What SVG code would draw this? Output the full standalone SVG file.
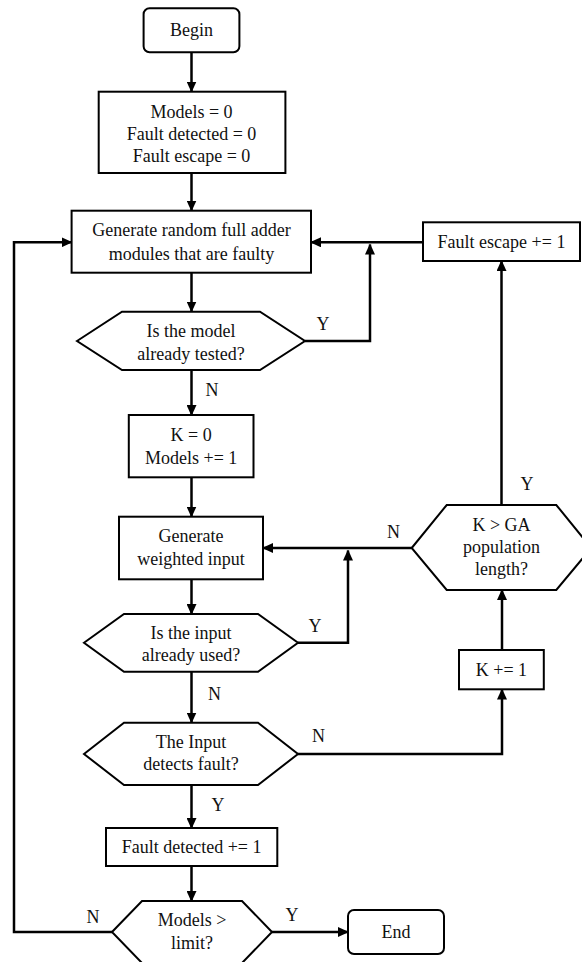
<svg xmlns="http://www.w3.org/2000/svg" width="582" height="962" viewBox="0 0 582 962">
  <style>
    .shape { fill: #ffffff; stroke: #000000; stroke-width: 2; }
    .wire { fill: none; stroke: #000000; stroke-width: 2.5; }
    text { font-family: "Liberation Serif", "Times New Roman", serif; font-size: 18px; fill: #111111; text-anchor: middle; }
  </style>
  <defs>
    <marker id="arrow" markerUnits="userSpaceOnUse" markerWidth="11" markerHeight="10" refX="10" refY="5" orient="auto">
      <path d="M0,0 L11,5 L0,10 Z" fill="#000000"/>
    </marker>
  </defs>

  <rect width="582" height="962" fill="#ffffff"/>

  <!-- connectors -->
  <g id="connectors" class="wire" marker-end="url(#arrow)">
    <path d="M191.5,52.5 V91.5"/>
    <path d="M191.5,173 V210.5"/>
    <path d="M191.5,272.5 V311.5"/>
    <path d="M305,341 H370 V244.5"/>
    <path d="M423,242.3 H311"/>
    <path d="M191.5,370 V415"/>
    <path d="M191.5,477.5 V516.5"/>
    <path d="M191.5,579.5 V614"/>
    <path d="M298,642.7 H348 V550.5"/>
    <path d="M411.7,548 H263"/>
    <path d="M191.5,671.7 V722.5"/>
    <path d="M298,754 H502 V689.5"/>
    <path d="M502,650 V590"/>
    <path d="M501.5,505 V261"/>
    <path d="M191.5,785 V828"/>
    <path d="M191.5,866 V901"/>
    <path d="M272,932 H348"/>
    <path d="M112,932 H14 V242.3 H71.5"/>
  </g>

  <!-- branch labels -->
  <g id="labels">
    <text x="323" y="330">Y</text>
    <text x="212" y="396">N</text>
    <text x="393.5" y="538">N</text>
    <text x="527" y="489.5">Y</text>
    <text x="315" y="632">Y</text>
    <text x="214.5" y="699.5">N</text>
    <text x="318.5" y="742">N</text>
    <text x="218" y="811">Y</text>
    <text x="93" y="923">N</text>
    <text x="292" y="921">Y</text>
  </g>

  <g id="begin">
    <rect class="shape" x="143.6" y="8.3" width="95.8" height="44" rx="6"/>
    <text x="191.5" y="36">Begin</text>
  </g>

  <g id="init">
    <rect class="shape" x="98.7" y="91.7" width="186.7" height="81.3"/>
    <text x="191.5" y="118">Models = 0</text>
    <text x="191.5" y="140">Fault detected = 0</text>
    <text x="191.5" y="161.5">Fault escape = 0</text>
  </g>

  <g id="generate-modules">
    <rect class="shape" x="71.6" y="210.7" width="239.4" height="62"/>
    <text x="191.5" y="235.5">Generate random full adder</text>
    <text x="191.5" y="259.5">modules that are faulty</text>
  </g>

  <g id="fault-escape">
    <rect class="shape" x="423" y="222.3" width="157" height="38.7"/>
    <text x="501.5" y="248">Fault escape += 1</text>
  </g>

  <g id="model-tested">
    <polygon class="shape" points="77,341 122,311.7 260,311.7 305,341 260,370 122,370"/>
    <text x="191" y="337">Is the model</text>
    <text x="191" y="359.5">already tested?</text>
  </g>

  <g id="init-k">
    <rect class="shape" x="128.8" y="415" width="124.7" height="62.3"/>
    <text x="191.2" y="440.5">K = 0</text>
    <text x="191.2" y="463.5">Models += 1</text>
  </g>

  <g id="generate-input">
    <rect class="shape" x="119" y="516.7" width="144" height="62.6"/>
    <text x="191" y="542">Generate</text>
    <text x="191" y="564.5">weighted input</text>
  </g>

  <g id="k-check">
    <polygon class="shape" points="411.7,548 446.7,505 556.3,505 591.3,548 556.3,590 446.7,590"/>
    <text x="501.5" y="531">K &gt; GA</text>
    <text x="501.5" y="553">population</text>
    <text x="501.5" y="575">length?</text>
  </g>

  <g id="input-used">
    <polygon class="shape" points="84,642.7 124,614 258,614 298,642.7 258,671.7 124,671.7"/>
    <text x="191" y="638.5">Is the input</text>
    <text x="191" y="661">already used?</text>
  </g>

  <g id="k-increment">
    <rect class="shape" x="459" y="650" width="84.8" height="39.3"/>
    <text x="501.4" y="676">K += 1</text>
  </g>

  <g id="input-detects">
    <polygon class="shape" points="84,754 124,722.7 258,722.7 298,754 258,785 124,785"/>
    <text x="191" y="748">The Input</text>
    <text x="191" y="769.5">detects fault?</text>
  </g>

  <g id="fault-detected">
    <rect class="shape" x="106" y="828" width="171.3" height="38"/>
    <text x="191.6" y="853">Fault detected += 1</text>
  </g>

  <g id="models-limit">
    <polygon class="shape" points="112,932 142,901 242,901 272,932 242,963 142,963"/>
    <text x="192" y="926">Models &gt;</text>
    <text x="192" y="949">limit?</text>
  </g>

  <g id="end">
    <rect class="shape" x="348" y="910" width="96" height="44" rx="6"/>
    <text x="396" y="938">End</text>
  </g>
</svg>
